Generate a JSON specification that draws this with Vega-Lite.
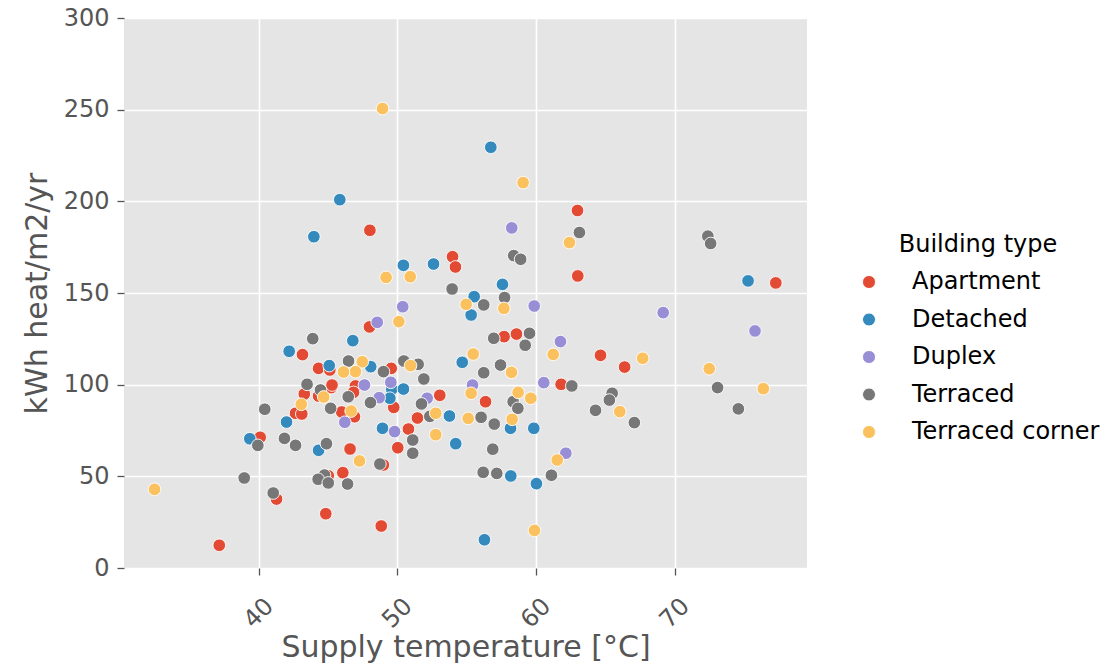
{
  "$schema": "https://vega.github.io/schema/vega-lite/v6.json",
  "width": 683,
  "height": 550,
  "autosize": {"type": "none"},
  "padding": {"left": 124, "top": 18, "right": 302, "bottom": 98},
  "background": "white",
  "config": {
    "font": "DejaVu Sans",
    "view": {"fill": "#E5E5E5", "stroke": null}
  },
  "datasets": {
    "pts": [
      {"temp": 37.17, "kwh": 12.4, "type": "Apartment"},
      {"temp": 41.3, "kwh": 37.6, "type": "Apartment"},
      {"temp": 44.85, "kwh": 29.6, "type": "Apartment"},
      {"temp": 48.85, "kwh": 22.9, "type": "Apartment"},
      {"temp": 40.12, "kwh": 71.3, "type": "Apartment"},
      {"temp": 42.67, "kwh": 84.4, "type": "Apartment"},
      {"temp": 43.12, "kwh": 84.0, "type": "Apartment"},
      {"temp": 43.3, "kwh": 94.9, "type": "Apartment"},
      {"temp": 44.33, "kwh": 93.8, "type": "Apartment"},
      {"temp": 45.24, "kwh": 98.4, "type": "Apartment"},
      {"temp": 46.0, "kwh": 85.1, "type": "Apartment"},
      {"temp": 46.6, "kwh": 64.9, "type": "Apartment"},
      {"temp": 46.08, "kwh": 52.0, "type": "Apartment"},
      {"temp": 45.03, "kwh": 50.3, "type": "Apartment"},
      {"temp": 43.17, "kwh": 116.4, "type": "Apartment"},
      {"temp": 44.33, "kwh": 108.9, "type": "Apartment"},
      {"temp": 45.14, "kwh": 108.0, "type": "Apartment"},
      {"temp": 45.3, "kwh": 99.8, "type": "Apartment"},
      {"temp": 46.99, "kwh": 99.3, "type": "Apartment"},
      {"temp": 46.85, "kwh": 95.8, "type": "Apartment"},
      {"temp": 46.92, "kwh": 82.5, "type": "Apartment"},
      {"temp": 48.03, "kwh": 184.2, "type": "Apartment"},
      {"temp": 48.0, "kwh": 131.5, "type": "Apartment"},
      {"temp": 49.57, "kwh": 108.9, "type": "Apartment"},
      {"temp": 49.75, "kwh": 87.6, "type": "Apartment"},
      {"temp": 50.81, "kwh": 75.8, "type": "Apartment"},
      {"temp": 50.04, "kwh": 65.6, "type": "Apartment"},
      {"temp": 51.46, "kwh": 81.8, "type": "Apartment"},
      {"temp": 53.07, "kwh": 94.2, "type": "Apartment"},
      {"temp": 49.0, "kwh": 56.2, "type": "Apartment"},
      {"temp": 53.99, "kwh": 169.8, "type": "Apartment"},
      {"temp": 54.2, "kwh": 164.2, "type": "Apartment"},
      {"temp": 56.37, "kwh": 90.7, "type": "Apartment"},
      {"temp": 57.71, "kwh": 126.2, "type": "Apartment"},
      {"temp": 58.6, "kwh": 127.6, "type": "Apartment"},
      {"temp": 61.82, "kwh": 100.2, "type": "Apartment"},
      {"temp": 63.0, "kwh": 195.0, "type": "Apartment"},
      {"temp": 63.02, "kwh": 159.3, "type": "Apartment"},
      {"temp": 64.66, "kwh": 116.0, "type": "Apartment"},
      {"temp": 66.4, "kwh": 109.6, "type": "Apartment"},
      {"temp": 77.3, "kwh": 155.5, "type": "Apartment"},

      {"temp": 45.86, "kwh": 200.9, "type": "Detached"},
      {"temp": 43.99, "kwh": 180.7, "type": "Detached"},
      {"temp": 56.75, "kwh": 229.5, "type": "Detached"},
      {"temp": 42.21, "kwh": 118.2, "type": "Detached"},
      {"temp": 46.8, "kwh": 124.0, "type": "Detached"},
      {"temp": 45.1, "kwh": 110.4, "type": "Detached"},
      {"temp": 39.37, "kwh": 70.5, "type": "Detached"},
      {"temp": 42.02, "kwh": 79.6, "type": "Detached"},
      {"temp": 44.33, "kwh": 64.2, "type": "Detached"},
      {"temp": 50.45, "kwh": 165.1, "type": "Detached"},
      {"temp": 52.62, "kwh": 165.8, "type": "Detached"},
      {"temp": 57.59, "kwh": 154.7, "type": "Detached"},
      {"temp": 55.55, "kwh": 148.0, "type": "Detached"},
      {"temp": 55.33, "kwh": 138.0, "type": "Detached"},
      {"temp": 54.69, "kwh": 112.2, "type": "Detached"},
      {"temp": 48.09, "kwh": 109.8, "type": "Detached"},
      {"temp": 49.61, "kwh": 97.5, "type": "Detached"},
      {"temp": 50.45, "kwh": 97.6, "type": "Detached"},
      {"temp": 49.47, "kwh": 92.6, "type": "Detached"},
      {"temp": 48.94, "kwh": 76.2, "type": "Detached"},
      {"temp": 53.77, "kwh": 82.9, "type": "Detached"},
      {"temp": 54.22, "kwh": 67.8, "type": "Detached"},
      {"temp": 58.17, "kwh": 76.2, "type": "Detached"},
      {"temp": 59.85, "kwh": 76.2, "type": "Detached"},
      {"temp": 58.19, "kwh": 50.2, "type": "Detached"},
      {"temp": 60.04, "kwh": 46.0, "type": "Detached"},
      {"temp": 56.29, "kwh": 15.4, "type": "Detached"},
      {"temp": 75.3, "kwh": 156.6, "type": "Detached"},

      {"temp": 58.26, "kwh": 185.5, "type": "Duplex"},
      {"temp": 50.4, "kwh": 142.5, "type": "Duplex"},
      {"temp": 59.88, "kwh": 142.9, "type": "Duplex"},
      {"temp": 48.56, "kwh": 134.0, "type": "Duplex"},
      {"temp": 61.77, "kwh": 123.5, "type": "Duplex"},
      {"temp": 69.18, "kwh": 139.3, "type": "Duplex"},
      {"temp": 75.8, "kwh": 129.3, "type": "Duplex"},
      {"temp": 47.64, "kwh": 99.8, "type": "Duplex"},
      {"temp": 49.54, "kwh": 101.3, "type": "Duplex"},
      {"temp": 55.43, "kwh": 99.8, "type": "Duplex"},
      {"temp": 60.57, "kwh": 101.1, "type": "Duplex"},
      {"temp": 48.7, "kwh": 92.9, "type": "Duplex"},
      {"temp": 52.16, "kwh": 92.6, "type": "Duplex"},
      {"temp": 49.81, "kwh": 74.4, "type": "Duplex"},
      {"temp": 46.22, "kwh": 79.5, "type": "Duplex"},
      {"temp": 62.16, "kwh": 62.6, "type": "Duplex"},

      {"temp": 43.91, "kwh": 125.1, "type": "Terraced"},
      {"temp": 46.49, "kwh": 112.9, "type": "Terraced"},
      {"temp": 43.5, "kwh": 100.2, "type": "Terraced"},
      {"temp": 44.47, "kwh": 97.1, "type": "Terraced"},
      {"temp": 40.45, "kwh": 86.6, "type": "Terraced"},
      {"temp": 39.95, "kwh": 66.9, "type": "Terraced"},
      {"temp": 38.97, "kwh": 49.1, "type": "Terraced"},
      {"temp": 41.06, "kwh": 40.9, "type": "Terraced"},
      {"temp": 41.87, "kwh": 70.7, "type": "Terraced"},
      {"temp": 42.67, "kwh": 66.9, "type": "Terraced"},
      {"temp": 44.9, "kwh": 67.8, "type": "Terraced"},
      {"temp": 45.2, "kwh": 87.1, "type": "Terraced"},
      {"temp": 46.47, "kwh": 93.4, "type": "Terraced"},
      {"temp": 44.76, "kwh": 50.7, "type": "Terraced"},
      {"temp": 44.3, "kwh": 48.4, "type": "Terraced"},
      {"temp": 45.03, "kwh": 46.4, "type": "Terraced"},
      {"temp": 46.42, "kwh": 45.8, "type": "Terraced"},
      {"temp": 58.4, "kwh": 170.4, "type": "Terraced"},
      {"temp": 58.9, "kwh": 168.4, "type": "Terraced"},
      {"temp": 63.14, "kwh": 183.0, "type": "Terraced"},
      {"temp": 53.96, "kwh": 152.2, "type": "Terraced"},
      {"temp": 57.74, "kwh": 147.5, "type": "Terraced"},
      {"temp": 56.24, "kwh": 143.5, "type": "Terraced"},
      {"temp": 56.96, "kwh": 125.3, "type": "Terraced"},
      {"temp": 59.54, "kwh": 128.0, "type": "Terraced"},
      {"temp": 59.23, "kwh": 121.5, "type": "Terraced"},
      {"temp": 57.45, "kwh": 110.7, "type": "Terraced"},
      {"temp": 56.24, "kwh": 106.5, "type": "Terraced"},
      {"temp": 50.48, "kwh": 112.9, "type": "Terraced"},
      {"temp": 51.51, "kwh": 111.1, "type": "Terraced"},
      {"temp": 51.92, "kwh": 103.1, "type": "Terraced"},
      {"temp": 49.01, "kwh": 107.1, "type": "Terraced"},
      {"temp": 48.07, "kwh": 90.2, "type": "Terraced"},
      {"temp": 51.75, "kwh": 89.5, "type": "Terraced"},
      {"temp": 52.35, "kwh": 82.7, "type": "Terraced"},
      {"temp": 51.12, "kwh": 69.8, "type": "Terraced"},
      {"temp": 51.12, "kwh": 62.6, "type": "Terraced"},
      {"temp": 48.75, "kwh": 56.7, "type": "Terraced"},
      {"temp": 56.05, "kwh": 82.2, "type": "Terraced"},
      {"temp": 57.0, "kwh": 78.5, "type": "Terraced"},
      {"temp": 58.36, "kwh": 90.7, "type": "Terraced"},
      {"temp": 58.7, "kwh": 87.1, "type": "Terraced"},
      {"temp": 56.89, "kwh": 64.8, "type": "Terraced"},
      {"temp": 56.2, "kwh": 52.2, "type": "Terraced"},
      {"temp": 57.18, "kwh": 51.6, "type": "Terraced"},
      {"temp": 61.12, "kwh": 50.6, "type": "Terraced"},
      {"temp": 62.59, "kwh": 99.3, "type": "Terraced"},
      {"temp": 72.4, "kwh": 181.0, "type": "Terraced"},
      {"temp": 72.6, "kwh": 177.0, "type": "Terraced"},
      {"temp": 73.1, "kwh": 98.4, "type": "Terraced"},
      {"temp": 74.6, "kwh": 86.8, "type": "Terraced"},
      {"temp": 65.5, "kwh": 95.3, "type": "Terraced"},
      {"temp": 65.3, "kwh": 91.6, "type": "Terraced"},
      {"temp": 64.3, "kwh": 86.0, "type": "Terraced"},
      {"temp": 67.1, "kwh": 79.3, "type": "Terraced"},

      {"temp": 48.94, "kwh": 250.6, "type": "Terraced corner"},
      {"temp": 59.08, "kwh": 210.2, "type": "Terraced corner"},
      {"temp": 62.42, "kwh": 177.5, "type": "Terraced corner"},
      {"temp": 49.2, "kwh": 158.5, "type": "Terraced corner"},
      {"temp": 50.94, "kwh": 158.9, "type": "Terraced corner"},
      {"temp": 54.97, "kwh": 143.8, "type": "Terraced corner"},
      {"temp": 57.69, "kwh": 141.6, "type": "Terraced corner"},
      {"temp": 50.12, "kwh": 134.4, "type": "Terraced corner"},
      {"temp": 61.25, "kwh": 116.5, "type": "Terraced corner"},
      {"temp": 55.48, "kwh": 116.7, "type": "Terraced corner"},
      {"temp": 58.24, "kwh": 106.7, "type": "Terraced corner"},
      {"temp": 47.48, "kwh": 112.5, "type": "Terraced corner"},
      {"temp": 46.99, "kwh": 107.1, "type": "Terraced corner"},
      {"temp": 46.13, "kwh": 106.9, "type": "Terraced corner"},
      {"temp": 50.96, "kwh": 110.4, "type": "Terraced corner"},
      {"temp": 46.68, "kwh": 85.6, "type": "Terraced corner"},
      {"temp": 43.08, "kwh": 89.3, "type": "Terraced corner"},
      {"temp": 44.7, "kwh": 93.3, "type": "Terraced corner"},
      {"temp": 32.5, "kwh": 42.9, "type": "Terraced corner"},
      {"temp": 47.28, "kwh": 58.4, "type": "Terraced corner"},
      {"temp": 52.78, "kwh": 72.7, "type": "Terraced corner"},
      {"temp": 52.78, "kwh": 84.4, "type": "Terraced corner"},
      {"temp": 55.33, "kwh": 95.3, "type": "Terraced corner"},
      {"temp": 55.12, "kwh": 81.6, "type": "Terraced corner"},
      {"temp": 58.72, "kwh": 95.8, "type": "Terraced corner"},
      {"temp": 59.63, "kwh": 92.6, "type": "Terraced corner"},
      {"temp": 58.29, "kwh": 81.1, "type": "Terraced corner"},
      {"temp": 61.54, "kwh": 58.9, "type": "Terraced corner"},
      {"temp": 59.9, "kwh": 20.5, "type": "Terraced corner"},
      {"temp": 67.7, "kwh": 114.4, "type": "Terraced corner"},
      {"temp": 72.5, "kwh": 108.7, "type": "Terraced corner"},
      {"temp": 76.4, "kwh": 97.8, "type": "Terraced corner"},
      {"temp": 66.05, "kwh": 85.3, "type": "Terraced corner"}
    ]
  },
  "data": {"name": "pts"},
  "mark": {"type": "point", "filled": true, "size": 160, "stroke": "white", "strokeWidth": 0.9, "opacity": 1},
  "encoding": {
    "x": {
      "field": "temp",
      "type": "quantitative",
      "scale": {"domain": [30.3, 79.55], "nice": false, "zero": false},
      "axis": {
        "values": [40, 50, 60, 70],
        "grid": true, "gridColor": "white", "gridWidth": 1.6,
        "domain": false,
        "tickColor": "#555555", "tickSize": 7, "tickWidth": 1.3,
        "labelAngle": -45, "labelAlign": "center", "labelBaseline": "middle",
        "labelPadding": 38, "labelFontSize": 24, "labelColor": "#555555",
        "title": "Supply temperature [°C]",
        "titleFontSize": 30, "titleColor": "#555555", "titleFontWeight": "normal",
        "titleY": 79, "titleBaseline": "middle"
      }
    },
    "y": {
      "field": "kwh",
      "type": "quantitative",
      "scale": {"domain": [0, 300], "nice": false, "zero": true},
      "axis": {
        "values": [0, 50, 100, 150, 200, 250, 300],
        "grid": true, "gridColor": "white", "gridWidth": 1.6,
        "domain": false,
        "tickColor": "#555555", "tickSize": 7, "tickWidth": 1.3,
        "labelPadding": 8, "labelFontSize": 24, "labelColor": "#555555",
        "title": "kWh heat/m2/yr",
        "titleFontSize": 30, "titleColor": "#555555", "titleFontWeight": "normal",
        "titleX": -87, "titleBaseline": "middle"
      }
    },
    "color": {
      "field": "type",
      "type": "nominal",
      "scale": {
        "domain": ["Apartment", "Detached", "Duplex", "Terraced", "Terraced corner"],
        "range": ["#E24A33", "#348ABD", "#988ED5", "#777777", "#FBC15E"]
      },
      "legend": {
        "title": "Building type",
        "orient": "none", "legendX": 733, "legendY": 215,
        "titleFontSize": 24, "titleColor": "black", "titleFontWeight": "normal",
        "titleAnchor": "middle", "titlePadding": 13, "titleLimit": 400,
        "labelFontSize": 24, "labelColor": "black", "labelOffset": 31, "labelLimit": 400,
        "symbolType": "circle", "symbolSize": 170, "symbolStrokeColor": "white",
        "symbolStrokeWidth": 1, "symbolOpacity": 1,
        "rowPadding": 13.5, "padding": 0
      }
    }
  }
}
